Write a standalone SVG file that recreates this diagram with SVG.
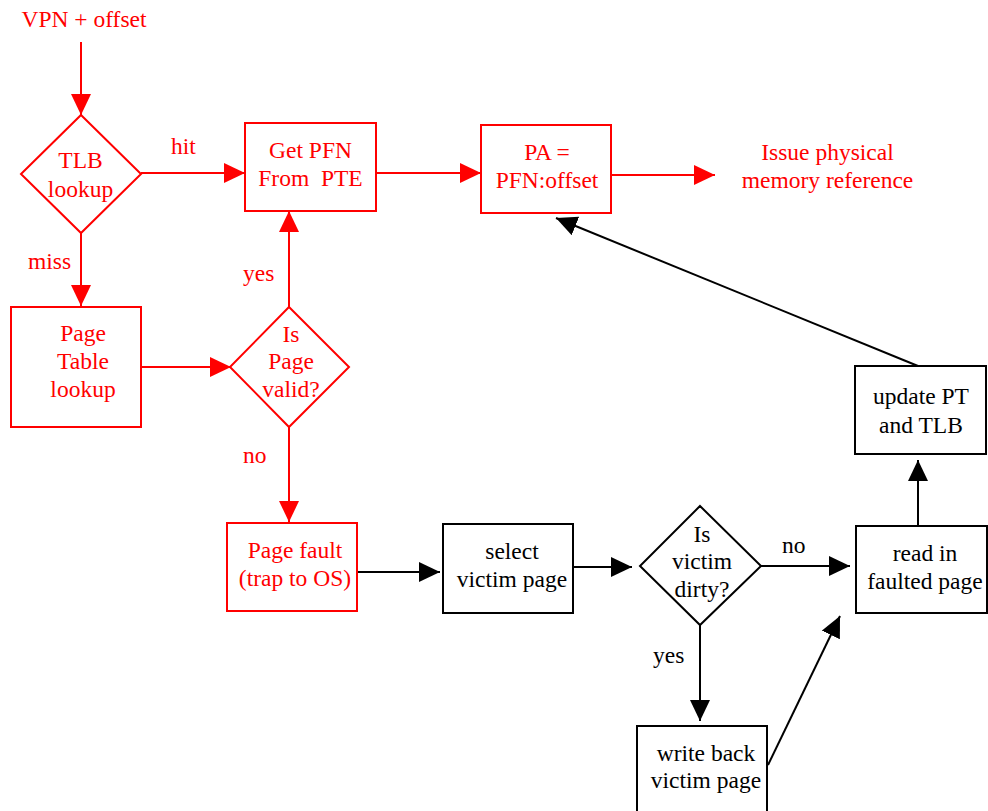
<svg xmlns="http://www.w3.org/2000/svg" width="988" height="811" viewBox="0 0 988 811">
<defs>
<marker id="ar" markerUnits="userSpaceOnUse" markerWidth="21" markerHeight="20" viewBox="0 0 21 20" refX="21" refY="10" orient="auto"><path d="M0,0 L21,10 L0,20 z" fill="#FF0000"/></marker>
<marker id="ab" markerUnits="userSpaceOnUse" markerWidth="21" markerHeight="20" viewBox="0 0 21 20" refX="21" refY="10" orient="auto"><path d="M0,0 L21,10 L0,20 z" fill="#000000"/></marker>
<style>
text{font-family:"Liberation Serif","Times New Roman",serif;font-size:23.5px;text-anchor:middle}
.r text,text.r{fill:#FF0000}
.k text,text.k{fill:#000000}
.st{text-anchor:start}
.r rect,.r polygon{fill:#fff;stroke:#FF0000;stroke-width:2}
.k rect,.k polygon{fill:#fff;stroke:#000;stroke-width:2}
.cr{stroke:#FF0000;stroke-width:2;fill:none;marker-end:url(#ar)}
.ck{stroke:#000;stroke-width:2;fill:none;marker-end:url(#ab)}
</style>
</defs>
<rect width="988" height="811" fill="#fff"/>
<g id="connectors">
<line class="cr" x1="81" y1="42" x2="81" y2="115"/>
<line class="cr" x1="141" y1="173" x2="245" y2="173"/>
<line class="cr" x1="81" y1="233" x2="81" y2="306"/>
<line class="cr" x1="141" y1="367" x2="231" y2="367"/>
<line class="cr" x1="289" y1="307" x2="289" y2="211"/>
<line class="cr" x1="289" y1="427" x2="289" y2="522"/>
<line class="cr" x1="376" y1="173" x2="481" y2="173"/>
<line class="cr" x1="611" y1="175" x2="715" y2="175"/>
<line class="ck" x1="357" y1="572" x2="440" y2="572"/>
<line class="ck" x1="573" y1="567" x2="632" y2="567"/>
<line class="ck" x1="761" y1="566" x2="850" y2="566"/>
<line class="ck" x1="700" y1="625" x2="700" y2="721"/>
<line class="ck" x1="768" y1="765" x2="840" y2="616"/>
<line class="ck" x1="918" y1="526" x2="918" y2="460"/>
<line class="ck" x1="918" y1="366" x2="556" y2="218"/>
<text class="r st" x="171" y="154">hit</text>
<text class="r st" x="28" y="269">miss</text>
<text class="r st" x="243" y="281">yes</text>
<text class="r st" x="243" y="463">no</text>
<text class="k st" x="782" y="553">no</text>
<text class="k st" x="653" y="663">yes</text>
</g>
<g id="start" class="r"><text x="84" y="27">VPN + offset</text></g>
<g id="tlb" class="r"><polygon points="81,115 141,174 81,233 21,174"/><text x="80.5" y="168">TLB</text><text x="80.5" y="197">lookup</text></g>
<g id="getpfn" class="r"><rect x="245" y="123" width="131" height="88"/><text x="310.5" y="158">Get PFN</text><text x="310.5" y="186" style="white-space:pre">From  PTE</text></g>
<g id="pa" class="r"><rect x="481" y="125" width="130" height="88"/><text x="547" y="160">PA =</text><text x="547" y="188">PFN:offset</text></g>
<g id="issue" class="r"><text x="827.5" y="160">Issue physical</text><text x="827.5" y="188">memory reference</text></g>
<g id="pagetable" class="r"><rect x="11" y="307" width="130" height="120"/><text x="83" y="341">Page</text><text x="83" y="369">Table</text><text x="83" y="397">lookup</text></g>
<g id="valid" class="r"><polygon points="289,307 349,367 289,427 230,367"/><text x="291" y="342">Is</text><text x="291" y="369">Page</text><text x="291" y="397">valid?</text></g>
<g id="pagefault" class="r"><rect x="227" y="523" width="130" height="88"/><text x="295" y="558">Page fault</text><text x="295" y="586">(trap to OS)</text></g>
<g id="select" class="k"><rect x="443" y="524" width="130" height="89"/><text x="512" y="559">select</text><text x="512" y="587">victim page</text></g>
<g id="dirty" class="k"><polygon points="700,506 761,566 700,625 640,566"/><text x="702" y="542">Is</text><text x="702" y="569">victim</text><text x="702" y="597">dirty?</text></g>
<g id="readin" class="k"><rect x="856" y="526" width="131" height="87"/><text x="925" y="561">read in</text><text x="925" y="589">faulted page</text></g>
<g id="update" class="k"><rect x="855" y="366" width="131" height="88"/><text x="921" y="404">update PT</text><text x="921" y="433">and TLB</text></g>
<g id="writeback" class="k"><rect x="637" y="726" width="130" height="90"/><text x="706" y="761">write back</text><text x="706" y="788">victim page</text></g>
</svg>
